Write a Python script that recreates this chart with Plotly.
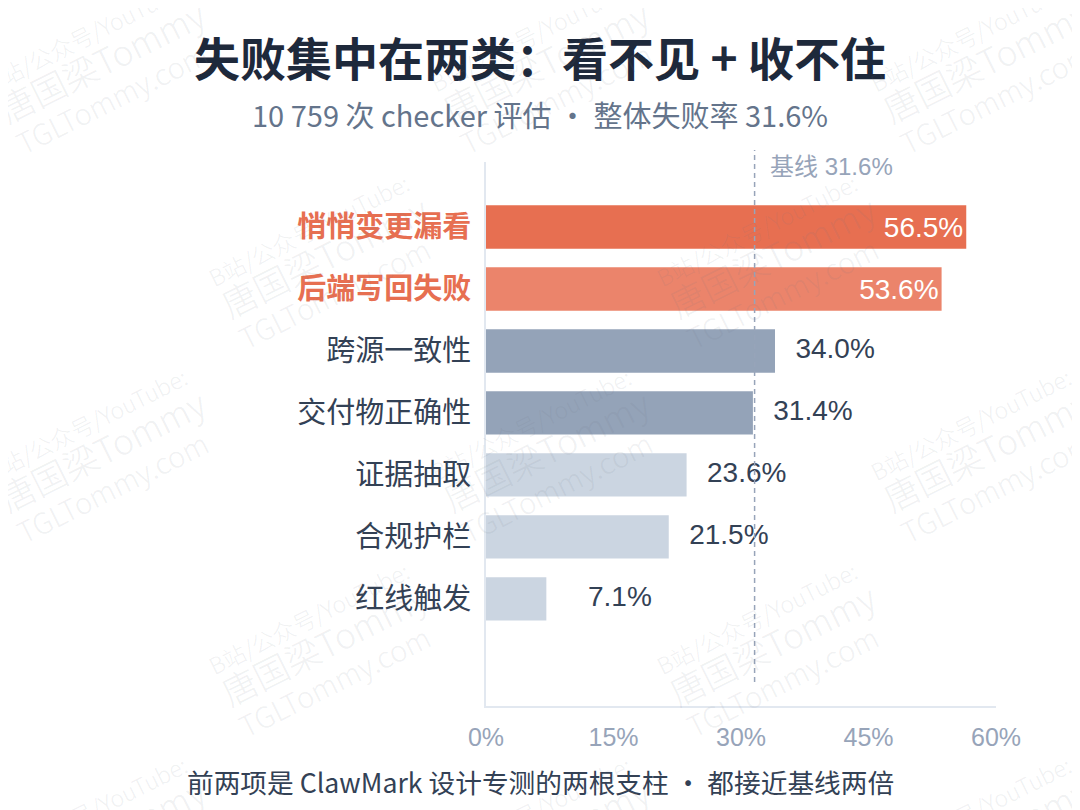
import plotly.graph_objects as go

# Data
categories = ["悄悄变更漏看", "后端写回失败", "跨源一致性", "交付物正确性", "证据抽取", "合规护栏", "红线触发"]
fail_rate = [56.5, 53.6, 34.0, 31.4, 23.6, 21.5, 7.1]
tier = ["focus", "focus", "mid", "mid", "low", "low", "low"]
baseline = 31.6
x_ticks = [0, 15, 30, 45, 60]
x_tick_labels = ["0%", "15%", "30%", "45%", "60%"]

title_text = "失败集中在两类：看不见 + 收不住"
subtitle_text = "10 759 次 checker 评估 · 整体失败率 31.6%"
footer_text = "前两项是 ClawMark 设计专测的两根支柱 · 都接近基线两倍"
baseline_text = "基线 31.6%"
watermark_lines = ["B站/公众号/YouTube:", "唐国梁Tommy", "TGLTommy.com"]

# Styles
FONT = "Liberation Sans, Noto Sans CJK SC, sans-serif"
CJK = "Noto Sans CJK SC, sans-serif"
tier_color = {"focus": "#e76f51", "mid": "#94a3b8", "low": "#cbd5e1"}
focus_fade = ["#e76f51", "rgba(231,111,81,0.85)"]
DARK = "#334155"
MUTED = "#97a4b9"
AXIS_LINE = "#e2e8f0"

# the page has an 8px body margin, so the figure starts at (8, 8)
PAGE_OFF = 8
W, H = 1080 - PAGE_OFF, 810 - PAGE_OFF
PLOT_X0, PLOT_X1, PLOT_Y0, PLOT_Y1 = 486, 996, 162, 706  # page pixels
L = PLOT_X0 - PAGE_OFF
T = PLOT_Y0 - PAGE_OFF
R = W - (PLOT_X1 - PAGE_OFF)
B = H - (PLOT_Y1 - PAGE_OFF)


def to_paper(px, py):
    return (px - PLOT_X0) / (PLOT_X1 - PLOT_X0), (PLOT_Y1 - py) / (PLOT_Y1 - PLOT_Y0)


bar_colors = []
k = 0
for t in tier:
    if t == "focus":
        bar_colors.append(focus_fade[min(k, len(focus_fade) - 1)])
        k += 1
    else:
        bar_colors.append(tier_color[t])

inside_text = [f"{v:.1f}%" if t == "focus" else "" for v, t in zip(fail_rate, tier)]

fig = go.Figure()
fig.add_trace(go.Bar(
    x=fail_rate,
    y=categories,
    orientation="h",
    marker=dict(color=bar_colors, line=dict(width=0)),
    text=inside_text,
    textposition="inside",
    insidetextanchor="end",
    insidetextfont=dict(color="white", size=28, family=FONT),
    constraintext="none",
    hoverinfo="skip",
))

# outside value labels for the grey bars (short bars get a minimum offset)
out_cats = [c for c, t in zip(categories, tier) if t != "focus"]
out_vals = [v for v, t in zip(fail_rate, tier) if t != "focus"]
fig.add_trace(go.Scatter(
    x=[max(v, 9.6) + 2.4 for v in out_vals],
    y=out_cats,
    mode="text",
    text=[f"{v:.1f}%" for v in out_vals],
    textposition="middle right",
    textfont=dict(color=DARK, size=28, family=FONT),
    cliponaxis=False,
    hoverinfo="skip",
))

tick_text = []
for c, t in zip(categories, tier):
    if t == "focus":
        tick_text.append(f"<span style='color:{tier_color['focus']}'><b>{c}</b></span>")
    else:
        tick_text.append(c)

fig.update_layout(
    width=W,
    height=H,
    margin=dict(l=L, r=R, t=T, b=B),
    paper_bgcolor="white",
    plot_bgcolor="white",
    showlegend=False,
    bargap=0.3,
    font=dict(family=FONT, color=DARK),
    title=dict(
        text=title_text,
        x=(540 - PAGE_OFF) / W, xref="container", xanchor="center",
        y=1 - (60 - PAGE_OFF) / H, yref="container", yanchor="middle",
        font=dict(size=46, color="#1e293b", family=CJK, weight=700),
    ),
    xaxis=dict(
        range=[0, x_ticks[-1]],
        tickvals=x_ticks,
        ticktext=x_tick_labels,
        tickfont=dict(size=25, color=MUTED, family=FONT),
        ticklabelstandoff=8,
        showgrid=False,
        zeroline=False,
        showline=True,
        linecolor=AXIS_LINE,
        linewidth=2,
        ticks="",
        fixedrange=True,
    ),
    yaxis=dict(
        type="category",
        categoryorder="array",
        categoryarray=categories,
        tickvals=categories,
        ticktext=tick_text,
        range=[len(categories) - 1 + 1.73, -1.05],
        tickfont=dict(size=29, color=DARK, family=CJK),
        ticklabelstandoff=7,
        showgrid=False,
        zeroline=False,
        showline=True,
        linecolor=AXIS_LINE,
        linewidth=2,
        ticks="",
        fixedrange=True,
    ),
)

# baseline marker
_, y_top = to_paper(0, 150)
_, y_bot = to_paper(0, 682)
fig.add_shape(
    type="line", xref="x", yref="paper",
    x0=baseline, x1=baseline, y0=y_bot, y1=y_top,
    line=dict(color=MUTED, width=1.5, dash="5px,4px"),
)
_, y_lab = to_paper(0, 167)
fig.add_annotation(
    text=baseline_text, xref="x", yref="paper",
    x=baseline, y=y_lab, xanchor="left", yanchor="middle", xshift=13,
    showarrow=False, font=dict(size=24, color=MUTED, family=FONT),
)

# subtitle and footer
sx, sy = to_paper(540, 114)
fig.add_annotation(
    text=subtitle_text, xref="paper", yref="paper", x=sx, y=sy,
    xanchor="center", yanchor="middle", showarrow=False,
    font=dict(size=29, color="#64748b", family=CJK),
)
fx, fy = to_paper(540, 781)
fig.add_annotation(
    text=footer_text, xref="paper", yref="paper", x=fx, y=fy,
    xanchor="center", yanchor="middle", showarrow=False,
    font=dict(size=26.7, color=DARK, family=CJK),
)

# faint tiled watermark
wm_text = (
    f"<span style='font-size:23px'>{watermark_lines[0]}</span><br>"
    f"<span style='font-size:35px'>{watermark_lines[1]}</span><br>"
    f"<span style='font-size:29px'>{watermark_lines[2]}</span>"
)
for row in range(5):
    cy = 66 + row * 194
    xs = [104, 548, 988] if row % 2 == 0 else [326, 774]
    for cx in xs:
        px, py = to_paper(cx, cy)
        fig.add_annotation(
            text=wm_text, xref="paper", yref="paper", x=px, y=py,
            xanchor="center", yanchor="middle", align="left",
            textangle=-26.5, showarrow=False,
            font=dict(size=27, color="rgba(110,120,135,0.11)", family=CJK, weight=300),
        )

fig.write_html("out.html")
